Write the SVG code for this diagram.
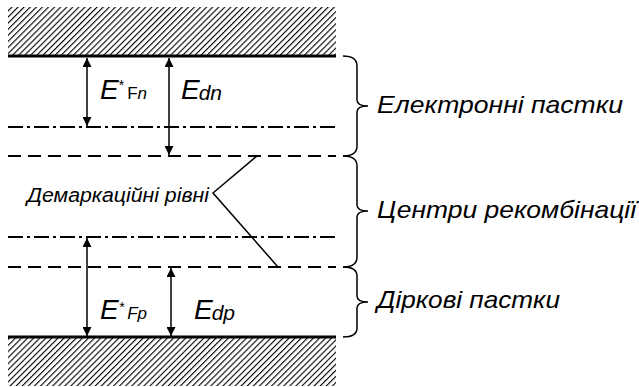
<svg xmlns="http://www.w3.org/2000/svg" width="639" height="387" viewBox="0 0 639 387">
<style>
.t{font-family:"Liberation Sans",Arial,sans-serif;font-style:italic;fill:#000}
.solid{stroke:#000;stroke-width:3;fill:none}
.dash{stroke:#000;stroke-width:2;fill:none;stroke-dasharray:13 7}
.dd{stroke:#000;stroke-width:2;fill:none;stroke-dasharray:15 4 3 4}
.thin{stroke:#000;stroke-width:1.5;fill:none}
.brace{stroke:#000;stroke-width:1.5;fill:none}
</style>
<defs>
<pattern id="hatch" patternUnits="userSpaceOnUse" width="4.3" height="4.3" patternTransform="rotate(45)">
<line x1="0" y1="0" x2="0" y2="4.3" stroke="#000" stroke-width="2.2"/>
</pattern>
<marker id="ah" viewBox="0 0 10 10" refX="10" refY="5" markerWidth="10" markerHeight="9" markerUnits="userSpaceOnUse" orient="auto-start-reverse">
<path d="M0,0 L10,5 L0,10 z" fill="#000"/>
</marker>
</defs>
<g id="bands">
<rect x="8" y="7" width="328" height="48" fill="url(#hatch)"/>
<rect x="8" y="338" width="328" height="48" fill="url(#hatch)"/>
<line class="solid" x1="8" y1="56" x2="336" y2="56"/>
<line class="solid" x1="8" y1="337" x2="336" y2="337"/>
<line class="dd" x1="8" y1="127" x2="336" y2="127"/>
<line class="dash" x1="8" y1="156" x2="336" y2="156"/>
<line class="dd" x1="8" y1="237" x2="336" y2="237"/>
<line class="dash" x1="8" y1="267" x2="336" y2="267"/>
</g>
<g id="connectors">
<line class="thin" x1="87" y1="58" x2="87" y2="126" marker-start="url(#ah)" marker-end="url(#ah)"/>
<line class="thin" x1="169" y1="58" x2="169" y2="155" marker-start="url(#ah)" marker-end="url(#ah)"/>
<line class="thin" x1="87" y1="238" x2="87" y2="336" marker-start="url(#ah)" marker-end="url(#ah)"/>
<line class="thin" x1="171" y1="268" x2="171" y2="336" marker-start="url(#ah)" marker-end="url(#ah)"/>
<polyline class="thin" points="257,156 213,193 278,267"/>
</g>
<g id="braces">
<path class="brace" d="M343,56 Q357,56 357,66 L357,100 Q357,106 368,106 Q357,106 357,112 L357,146 Q357,156 343,156"/>
<path class="brace" d="M343,156 Q357,156 357,166 L357,205 Q357,211 368,211 Q357,211 357,217 L357,257 Q357,267 343,267"/>
<path class="brace" d="M343,267 Q357,267 357,276 L357,296 Q357,302 368,302 Q357,302 357,308 L357,328 Q357,337 343,337"/>
</g>
<g id="label-EFn">
<text class="t" x="100" y="99"><tspan font-size="28">E</tspan><tspan font-size="14" font-style="normal" dy="-9">*</tspan><tspan font-size="17" font-style="normal" dx="3" dy="9">F</tspan><tspan font-size="17">n</tspan></text>
</g>
<g id="label-Edn">
<text class="t" x="181" y="99"><tspan font-size="28">E</tspan><tspan font-size="21" dx="-1" dy="1">dn</tspan></text>
</g>
<g id="label-EFp">
<text class="t" x="100" y="319"><tspan font-size="28">E</tspan><tspan font-size="14" dy="-7">*</tspan><tspan font-size="17" dx="3" dy="7">Fp</tspan></text>
</g>
<g id="label-Edp">
<text class="t" x="194" y="319"><tspan font-size="28">E</tspan><tspan font-size="21" dx="-1" dy="1">dp</tspan></text>
</g>
<g id="label-demarc">
<text class="t" x="27" y="202" font-size="20" textLength="182" lengthAdjust="spacingAndGlyphs">Демаркаційні рівні</text>
</g>
<g id="label-right">
<text class="t" x="377" y="113" font-size="24" textLength="246" lengthAdjust="spacingAndGlyphs">Електронні  пастки</text>
<text class="t" x="377" y="218" font-size="24" textLength="259" lengthAdjust="spacingAndGlyphs">Центри рекомбінації</text>
<text class="t" x="377" y="308" font-size="24" textLength="183" lengthAdjust="spacingAndGlyphs">Діркові пастки</text>
</g>
</svg>
